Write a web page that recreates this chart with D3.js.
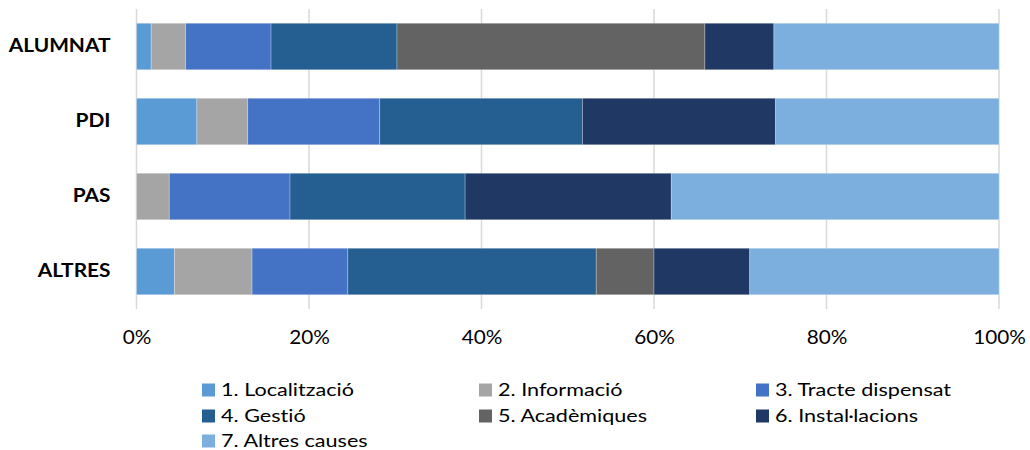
<!DOCTYPE html>
<html>
<head>
<meta charset="utf-8">
<script src="https://cdn.jsdelivr.net/npm/d3@7"></script>
<style>
  html, body { margin: 0; padding: 0; background: #fff; }
  svg { display: block; font-family: Lato, "Open Sans", sans-serif; font-variant-ligatures: none; }
</style>
</head>
<body>
<svg id="chart" width="1030" height="450"></svg>
<script>
// Respondent groups (one bar each)
const groups = ["ALUMNAT", "PDI", "PAS", "ALTRES"];

// Complaint categories (stack order, left to right)
const causes = [
  "1. Localització",
  "2. Informació",
  "3. Tracte dispensat",
  "4. Gestió",
  "5. Acadèmiques",
  "6. Instal·lacions",
  "7. Altres causes"
];

// Share (%) of each category per group, in the order of `groups`
const localitzacio   = [1.7, 7.0, 0.0, 4.4];
const informacio     = [4.0, 5.9, 3.8, 9.0];
const tracte         = [9.9, 15.3, 14.0, 11.1];
const gestio         = [14.6, 23.5, 20.3, 28.8];
const academiques    = [35.7, 0.0, 0.0, 6.7];
const installacions  = [8.0, 22.4, 23.9, 11.1];
const altres         = [26.1, 25.9, 38.0, 28.9];

const seriesValues = [localitzacio, informacio, tracte, gestio, academiques, installacions, altres];

const colors = ["#5B9BD5", "#A5A5A5", "#4472C4", "#255E91", "#636363", "#203864", "#7CAFDD"];

const tickValues = [0, 20, 40, 60, 80, 100];
const tickLabels = ["0%", "20%", "40%", "60%", "80%", "100%"];

// Build rows for d3.stack
const rows = groups.map((g, i) => {
  const r = { group: g };
  causes.forEach((c, k) => { r[c] = seriesValues[k][i]; });
  return r;
});

const svg = d3.select("#chart");
const margin = { left: 136.5, right: 31, top: 9, bottom: 141 };
const W = 1030, H = 450;

const x = d3.scaleLinear().domain([0, 100]).range([margin.left, W - margin.right]);
const y = d3.scaleBand().domain(groups).range([margin.top, H - margin.bottom]).paddingInner(0.38).paddingOuter(0.19);

// Vertical gridlines
svg.append("g")
  .selectAll("line")
  .data(tickValues)
  .join("line")
  .attr("x1", d => x(d)).attr("x2", d => x(d))
  .attr("y1", margin.top).attr("y2", H - margin.bottom)
  .attr("stroke", "#d9d9d9")
  .attr("stroke-width", 1.5);

// Stacked bars
const stack = d3.stack().keys(causes);
const layers = stack(rows);

svg.append("g")
  .selectAll("g")
  .data(layers)
  .join("g")
  .attr("fill", (d, i) => colors[i])
  .selectAll("rect")
  .data(d => d)
  .join("rect")
  .attr("x", d => x(d[0]))
  .attr("width", d => Math.max(0, x(d[1]) - x(d[0])))
  .attr("y", d => y(d.data.group))
  .attr("height", y.bandwidth())
  .attr("stroke", "#ffffff")
  .attr("stroke-opacity", 0.35)
  .attr("stroke-width", 0.75);

// Bottom axis labels
const xAxis = d3.axisBottom(x)
  .tickValues(tickValues)
  .tickFormat((d, i) => tickLabels[i])
  .tickSize(0)
  .tickPadding(22);

const gx = svg.append("g")
  .attr("transform", `translate(0,${H - margin.bottom})`)
  .call(xAxis);
gx.select(".domain").remove();
gx.selectAll("text")
  .attr("font-size", 18.5)
  .attr("font-family", "Lato, 'Open Sans', sans-serif")
  .attr("transform", "scale(1.12,1)")
  .attr("fill", "#000");

// Left axis labels (group names)
const ySx = 1.16;
const yAxis = d3.axisLeft(y).tickSize(0).tickPadding(0);
const gy = svg.append("g")
  .attr("transform", `translate(${margin.left},0)`)
  .call(yAxis);
gy.select(".domain").remove();
gy.selectAll("text")
  .attr("x", -26 / ySx)
  .attr("transform", `scale(${ySx},1)`)
  .attr("font-size", 18)
  .attr("font-weight", "bold")
  .attr("font-family", "Lato, 'Open Sans', sans-serif")
  .attr("fill", "#000");

// Legend: three columns
const legendCols = [202, 479, 756];
const legendRows = [390, 416, 441];
const legend = svg.append("g")
  .selectAll("g")
  .data(causes)
  .join("g")
  .attr("transform", (d, i) => `translate(${legendCols[i % 3]},${legendRows[Math.floor(i / 3)]})`);

legend.append("rect")
  .attr("x", 0).attr("y", -6.5)
  .attr("width", 13).attr("height", 13)
  .attr("fill", (d, i) => colors[i]);

legend.append("text")
  .attr("transform", "translate(19,0) scale(1.2,1)")
  .attr("dy", "0.35em")
  .attr("font-size", 18)
  .attr("fill", "#000")
  .text(d => d);
</script>
</body>
</html>
